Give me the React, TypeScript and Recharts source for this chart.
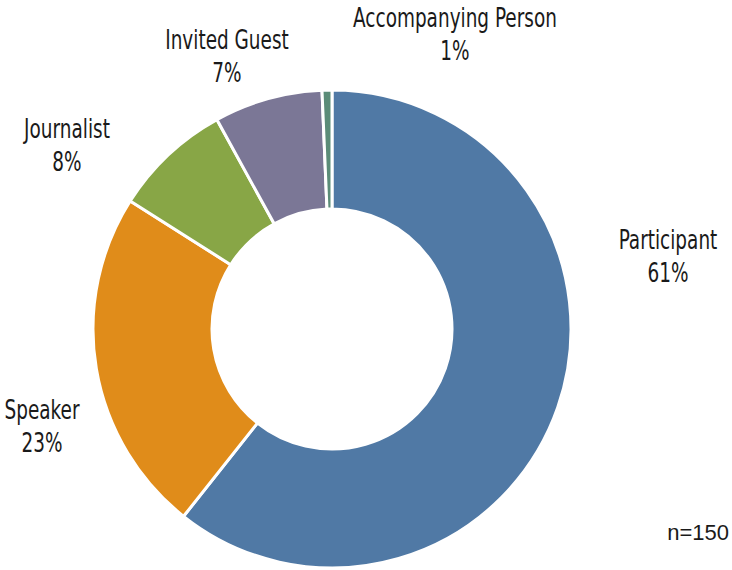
import { Pie, PieChart, Cell } from "recharts";

const categories = ["Participant", "Speaker", "Journalist", "Invited Guest", "Accompanying Person"];
const counts = [91, 35, 12, 11, 1];
const colors = ["#5079a5", "#e08c1a", "#88a646", "#7b7796", "#5b8c78"];
// label anchor (centre x, first baseline) relative to pie centre
const labelOffsets: [number, number][] = [
  [336, -80],
  [-290, 90],
  [-265, -191],
  [-105, -280],
  [123, -302],
];

const data = categories.map((name, i) => ({ name, value: counts[i] }));

const FONT = "'DejaVu Sans Condensed', 'DejaVu Sans', sans-serif";

function renderLabel(props: any) {
  const { cx, cy, index, percent, name } = props;
  const [dx, dy] = labelOffsets[index];
  const x = cx + dx;
  const y = cy + dy;
  return (
    <text
      x={x}
      y={y}
      textAnchor="middle"
      fill="#1a1a1a"
      fontFamily={FONT}
      fontStretch="condensed"
      fontSize={27}
      transform={`translate(${x} 0) scale(0.76 1) translate(${-x} 0)`}
    >
      <tspan x={x} y={y}>{name}</tspan>
      <tspan x={x} y={y + 33}>{`${Math.round(percent * 100)}%`}</tspan>
    </text>
  );
}

export default function App() {
  return (
    <div style={{ position: "absolute", left: 0, top: 0, width: 732, height: 570, background: "#fff" }}>
      <PieChart width={732} height={570} margin={{ top: 0, right: 0, bottom: 0, left: 0 }}>
        <Pie
          data={data}
          dataKey="value"
          nameKey="name"
          cx={332}
          cy={329}
          outerRadius={239}
          innerRadius={120}
          startAngle={90}
          endAngle={-270}
          stroke="#fff"
          strokeWidth={3}
          label={renderLabel}
          labelLine={false}
          isAnimationActive={false}
        >
          {data.map((d, i) => (
            <Cell key={d.name} fill={colors[i]} />
          ))}
        </Pie>
        <text x={729} y={540} textAnchor="end" fill="#1a1a1a" fontFamily="'Liberation Sans', Arial, sans-serif" fontSize={22}>
          n=150
        </text>
      </PieChart>
    </div>
  );
}
